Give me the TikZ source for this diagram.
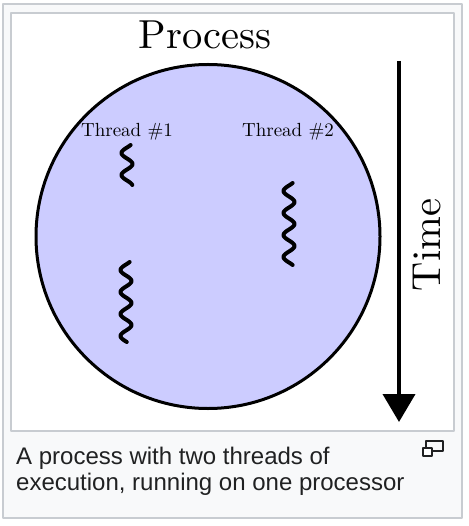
\documentclass[tikz,border=0pt]{standalone}
\usepackage{fontspec}
\setmainfont{lmroman10-regular}[Extension=.otf]
\newfontfamily\captionfont{Liberation Sans}
\usetikzlibrary{positioning,arrows.meta}
\definecolor{procblue}{RGB}{204,204,255}
\definecolor{framegray}{RGB}{200,204,209}
\definecolor{captionbg}{RGB}{248,249,250}
\definecolor{captiontext}{RGB}{32,33,34}
\def\waveamp{5.5}
\def\wavelen{22}

\begin{document}
\begin{tikzpicture}[x=1pt,y=-1pt,line join=round]
            \tikzstyle{frame}=[draw=framegray, line width=1.2pt]
            \tikzstyle{thread}=[line width=4pt, line cap=round]
            \tikzstyle{label}=[inner sep=0pt, anchor=base, font=\fontsize{19}{22}\selectfont]
            \tikzstyle{big label}=[inner sep=0pt, font=\fontsize{40.5}{48}\selectfont]
            \tikzstyle{caption}=[inner sep=0pt, anchor=base west, text=captiontext, font=\captionfont\fontsize{24}{27}\selectfont]
            \tikzstyle{icon}=[draw=captiontext, line width=1.3pt]

            % Frame around the picture and the caption
            \useasboundingbox (0,0) rectangle (468,526);
            \draw[frame, fill=captionbg] (3,4) rectangle (462,518);
            \draw[frame, fill=white] (11,13) rectangle (454,431);

            % Draw the process
            \node[circle, draw, fill=procblue, line width=3pt, minimum size=344pt, inner sep=0pt] (proc) at (208,236.5) {};
            \node[big label, above=14pt of proc, xshift=-3pt] (title) {Process};

            % Label the threads
            \node[label] (t1) at (127,137) {Thread \#1};
            \node[label] (t2) at (288,137) {Thread \#2};

            % Draw the threads as wavy lines
            \foreach \cx / \cy / \len in {127/145/40, 126/262/80, 289/183/82}
                \draw[thread] plot[variable=\t, domain=0:\len, samples=80, smooth]
                    ({\cx-\waveamp*sin((\t-2.5)/\wavelen*360)}, {\cy+\t});

            % Time axis
            \coordinate (time start) at (399,61);
            \coordinate (time end) at (399,422);
            \draw[line width=4pt, -{Triangle[length=28pt,width=32pt]}] (time start) -- (time end);
            \node[big label, rotate=90, anchor=base] (time) at (440,245) {Time};

            % Caption
            \node[caption] (cap1) at (16,464) {A process with two threads of};
            \node[caption] (cap2) at (16,490.5) {execution, running on one processor};
            \draw[icon] (426,441) rectangle (443,451);
            \draw[icon, fill=white] (423,448) rectangle (432,456);
\end{tikzpicture}
\end{document}
